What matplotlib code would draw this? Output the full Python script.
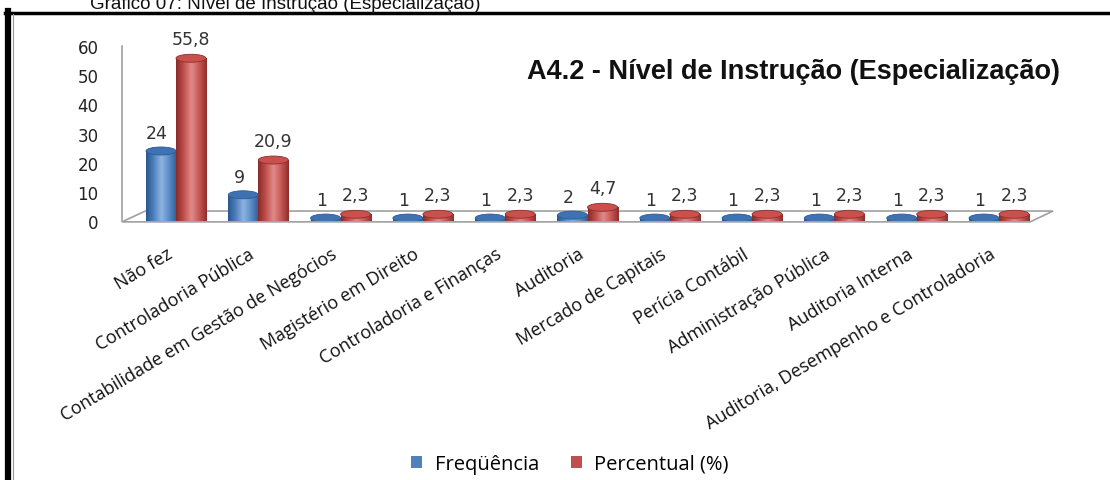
import numpy as np
import matplotlib.pyplot as plt
from matplotlib.patches import Rectangle, Ellipse, Patch, Polygon
from matplotlib.colors import LinearSegmentedColormap
from matplotlib.transforms import ScaledTranslation
from matplotlib.lines import Line2D

categorias = ["Não fez", "Controladoria Pública", "Contabilidade em Gestão de Negócios",
              "Magistério em Direito", "Controladoria e Finanças", "Auditoria",
              "Mercado de Capitais", "Perícia Contábil", "Administração Pública",
              "Auditoria Interna", "Auditoria, Desempenho e Controladoria"]
frequencia = [24, 9, 1, 1, 1, 2, 1, 1, 1, 1, 1]
percentual = [55.8, 20.9, 2.3, 2.3, 2.3, 4.7, 2.3, 2.3, 2.3, 2.3, 2.3]
yticks = [0, 10, 20, 30, 40, 50, 60]

W, H = 1110, 481
fig = plt.figure(figsize=(W / 100, H / 100), dpi=100)
fig.patch.set_facecolor("white")

# axes placed in pixels (left 122, right 1053, value 0 at y=222, value 60 at y=47)
ax = fig.add_axes([122 / W, 1 - 222 / H, (1053 - 122) / W, 175 / H])
ax.patch.set_alpha(0)

px_y = 175 / 60.0      # pixels per unit on y
px_x = 82.3            # pixels per category
bw = 30 / px_x
cap_h = 8 / px_y

cm_blue = LinearSegmentedColormap.from_list("b", ["#2a578f", "#4f81bd", "#8fb3e2", "#5b8bc6", "#2f5d97"])
cm_red = LinearSegmentedColormap.from_list("r", ["#8a2b29", "#c0504d", "#e08c8a", "#c85855", "#8f2e2c"])
grad = np.linspace(0, 1, 64).reshape(1, -1)

def cylinder(xc, v, cmap, top_col, edge_col):
    x0 = xc - bw / 2
    ax.add_patch(Ellipse((xc, 0), bw, cap_h, facecolor=edge_col, edgecolor="none", zorder=2))
    body = Rectangle((x0, 0), bw, v, facecolor="none", edgecolor="none")
    ax.add_patch(body)
    im = ax.imshow(grad, cmap=cmap, extent=[x0, x0 + bw, 0, v], aspect="auto",
                   interpolation="bilinear", zorder=3)
    im.set_clip_path(body)
    ax.add_patch(Ellipse((xc, v), bw, cap_h, facecolor=top_col, edgecolor=edge_col,
                         linewidth=0.6, zorder=4))

# floor of the 3d chart
floor = Polygon([(0, -0.005), (0.9755, -0.005), (1.0, 0.057), (0.025, 0.057)],
                closed=True, transform=ax.transAxes, facecolor="none",
                edgecolor="#a0a0a0", linewidth=1.2, clip_on=False, zorder=1)
ax.add_patch(floor)

x = np.arange(len(categorias))
for i in x:
    cylinder(i - bw / 2, frequencia[i], cm_blue, "#3f72b3", "#2d5a92")
    cylinder(i + bw / 2, percentual[i], cm_red, "#c9504d", "#8e2f2c")
    ax.annotate(f"{frequencia[i]}", (i - bw / 2, frequencia[i]), xytext=(-3, 13),
                textcoords="offset points", ha="center", va="center",
                fontsize=12.5, color="#333333", family="DejaVu Sans", zorder=5)
    ax.annotate(f"{percentual[i]}".replace(".", ","), (i + bw / 2, percentual[i]),
                xytext=(0, 14), textcoords="offset points", ha="center", va="center",
                fontsize=12.5, color="#333333", family="DejaVu Sans", zorder=5)

ax.set_xlim(-0.656, 10.656)
ax.set_ylim(0, 60)

for s in ["top", "right", "bottom"]:
    ax.spines[s].set_visible(False)
ax.spines["left"].set_color("#a0a0a0")
ax.spines["left"].set_linewidth(1.2)

ax.set_yticks(yticks)
ax.set_yticklabels([str(t) for t in yticks], fontsize=12, family="DejaVu Sans", color="#222222")
ax.tick_params(axis="y", length=0, pad=17)

ax.set_xticks(x)
ax.set_xticklabels(categorias, rotation=31, ha="right", va="top", rotation_mode="anchor",
                   fontsize=13, family="Open Sans", color="#111111")
ax.tick_params(axis="x", length=0, pad=17)
for lbl in ax.get_xticklabels():
    lbl.set_transform(lbl.get_transform() + ScaledTranslation(-10 / 100, 0, fig.dpi_scale_trans))

# inner chart title
fig.text(527 / W, 1 - 72 / H, "A4.2 - Nível de Instrução (Especialização)", fontsize=19.5,
         fontweight="bold", family="Liberation Sans", ha="left", va="center", color="#111111")

# document caption (cut at the top)
fig.text(90 / W, 1 - 9 / H, "Gráfico 07: Nível de Instrução (Especialização)", fontsize=13.5,
         family="Liberation Sans", ha="left", va="baseline", color="#111111")

# frame lines
fig.add_artist(Line2D([5 / W, 1.0], [1 - 13.5 / H, 1 - 13.5 / H], color="black", linewidth=2.5))
fig.add_artist(Line2D([8 / W, 8 / W], [0, 1 - 12 / H], color="black", linewidth=4.5))
fig.add_artist(Line2D([12.5 / W, 12.5 / W], [0, 1 - 15 / H], color="#999999", linewidth=0.8))

handles = [Patch(facecolor="#4f81bd", label="Freqüência"),
           Patch(facecolor="#c0504d", label="Percentual (%)")]
fig.legend(handles=handles, loc="center", bbox_to_anchor=(570 / W, 1 - 465 / H), ncol=2,
           frameon=False, handlelength=0.55, handleheight=0.55, handletextpad=0.6,
           columnspacing=1.6, prop={"family": "Open Sans", "size": 14.5})

fig.savefig("out.png", dpi=100)
